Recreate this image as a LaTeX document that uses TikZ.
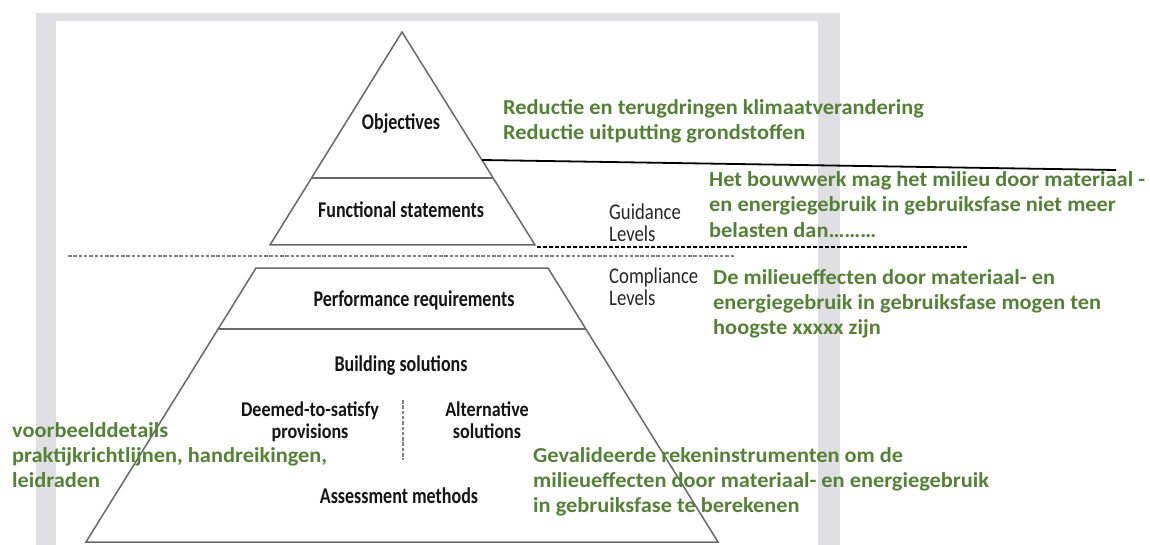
\documentclass[tikz,border=0pt]{standalone}
\usepackage{fontspec}
\setmainfont{Carlito}
\newfontfamily\pyrfont[FakeStretch=0.80]{Carlito}
\newfontfamily\pyrfontb[FakeStretch=0.86]{Carlito}
\newfontfamily\lvlfont[FakeStretch=0.83]{Carlito}
\newfontfamily\grnfont[FakeStretch=1.05]{Carlito}
\definecolor{framegray}{RGB}{224,224,228}
\definecolor{grn}{RGB}{84,130,53}
\definecolor{edgegray}{RGB}{105,105,105}
\tikzset{
  lbl/.style={font=\pyrfont\bfseries\fontsize{22.5}{25}\selectfont, text=black!92, inner sep=0pt, anchor=base},
  lblb/.style={font=\pyrfontb\bfseries\fontsize{21}{25}\selectfont, text=black!92, inner sep=0pt, anchor=base},
  lvl/.style={font=\lvlfont\fontsize{22.5}{25}\selectfont, text=black!85, inner sep=0pt, anchor=base west},
  gtxt/.style={font=\grnfont\bfseries\fontsize{21.3}{25}\selectfont, text=grn, inner sep=0pt, anchor=base west},
  edgeline/.style={draw=edgegray, line width=1.5pt, line join=miter},
  greydash/.style={draw=black!50, line width=1.5pt, dash pattern=on 3.5pt off 1.8pt},
  blackdash/.style={draw=black, line width=1.8pt, dash pattern=on 4pt off 2pt},
  blackline/.style={draw=black, line width=1.8pt},
}
\begin{document}
\begin{tikzpicture}[x=1pt,y=-1pt]
\useasboundingbox (0,0) rectangle (1150,545);
% frame
\fill[framegray] (36,13) rectangle (840,545);
\fill[white] (56,21) rectangle (818,545);
% coordinates
\coordinate (apex) at (402,32);
\coordinate (tbl) at (270,245);
\coordinate (tbr) at (535,245);
\coordinate (tdl) at (311.5,178);
\coordinate (tdr) at (493,178);
\coordinate (ltl) at (256,268);
\coordinate (ltr) at (548,268);
\coordinate (lbr) at (718,542);
\coordinate (lbl) at (86,542);
\coordinate (ldl) at (218.2,329);
\coordinate (ldr) at (585.8,329);
\coordinate (gd1) at (68,256);
\coordinate (gd2) at (735,256);
\coordinate (bd1) at (537,247);
\coordinate (bd2) at (968,247);
\coordinate (bs1) at (482,160);
\coordinate (bs2) at (1116,170);
\coordinate (vd1) at (403,400);
\coordinate (vd2) at (403,460);
% pyramid
\draw[edgeline] (apex) -- (tbr) -- (tbl) -- cycle;
\draw[edgeline] (tdl) -- (tdr);
\draw[edgeline] (ltl) -- (ltr) -- (lbr) -- (lbl) -- cycle;
\draw[edgeline] (ldl) -- (ldr);
\draw[greydash] (gd1) -- (gd2);
\draw[greydash] (vd1) -- (vd2);
\draw[blackdash] (bd1) -- (bd2);
\draw[blackline] (bs1) -- (bs2);
% pyramid labels
\node[lbl] (obj) at (401,130) {Objectives};
\node[lbl] (fun) at (401,218) {Functional statements};
\node[lbl] (perf) at (414,306) {Performance requirements};
\node[lbl] (bsol) at (401,371) {Building solutions};
\node[lblb] (dts1) at (310,416) {Deemed-to-satisfy};
\node[lblb] (dts2) at (310,438) {provisions};
\node[lblb] (alt1) at (487,416) {Alternative};
\node[lblb] (alt2) at (487,438) {solutions};
\node[lbl] (asm) at (399,503) {Assessment methods};
% levels
\node[lvl] (gl1) at (609,220) {Guidance};
\node[lvl] (gl2) at (609,242) {Levels};
\node[lvl] (cl1) at (609,283) {Compliance};
\node[lvl] (cl2) at (609,305) {Levels};
% green texts
\node[gtxt] (ga1) at (503,115) {Reductie en terugdringen klimaatverandering};
\node[gtxt] (ga2) at (503,140) {Reductie uitputting grondstoffen};
\node[gtxt] (gb1) at (709,187) {Het bouwwerk mag het milieu door materiaal -};
\node[gtxt] (gb2) at (709,212) {en energiegebruik in gebruiksfase niet meer};
\node[gtxt] (gb3) at (709,237) {belasten dan………};
\node[gtxt] (gc1) at (713,284) {De milieueffecten door materiaal- en};
\node[gtxt] (gc2) at (713,309) {energiegebruik in gebruiksfase mogen ten};
\node[gtxt] (gc3) at (713,334) {hoogste xxxxx zijn};
\node[gtxt] (gd1t) at (533,462) {Gevalideerde rekeninstrumenten om de};
\node[gtxt] (gd2t) at (533,487) {milieueffecten door materiaal- en energiegebruik};
\node[gtxt] (gd3t) at (533,512) {in gebruiksfase te berekenen};
\node[gtxt] (ge1) at (12,437) {voorbeelddetails};
\node[gtxt] (ge2) at (12,462) {praktijkrichtlijnen, handreikingen,};
\node[gtxt] (ge3) at (12,487) {leidraden};
\end{tikzpicture}
\end{document}
